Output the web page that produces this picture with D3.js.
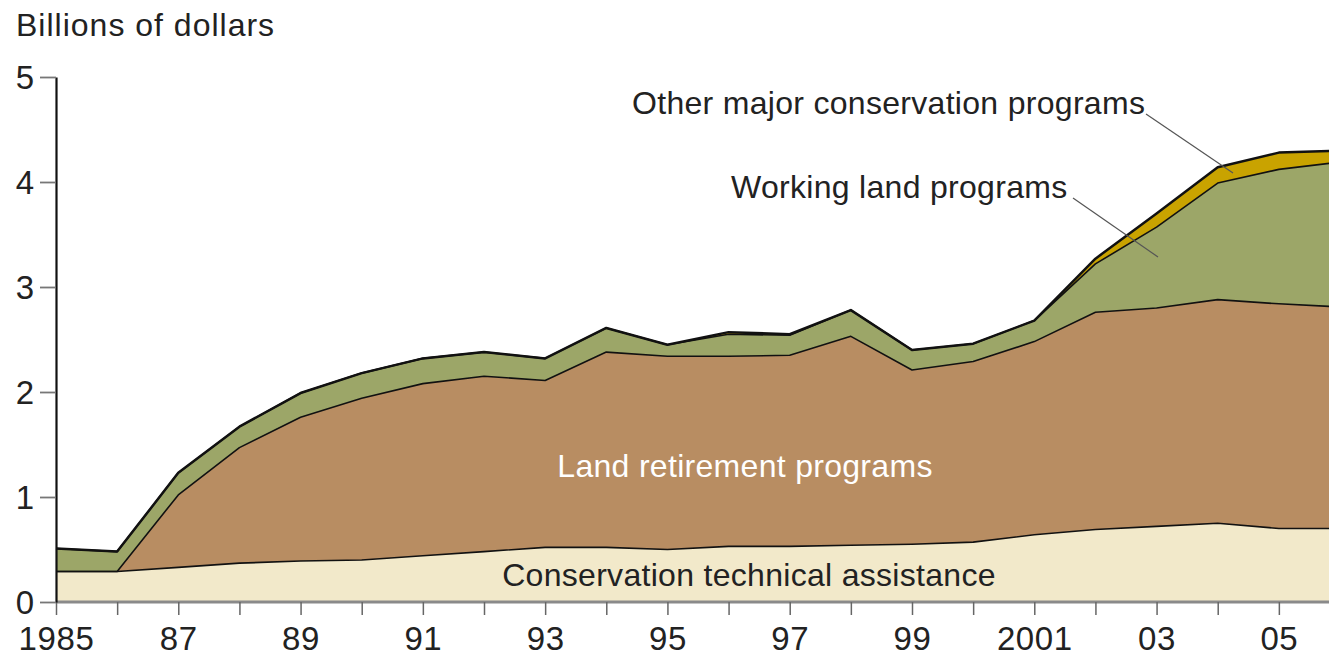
<!DOCTYPE html>
<html>
<head>
<meta charset="utf-8">
<script src="https://cdn.jsdelivr.net/npm/d3@7"></script>
<style>
  body { margin: 0; background: #fff; }
  svg text { font-family: "Liberation Sans", Arial, sans-serif; }
</style>
</head>
<body>
<div id="chart"></div>
<script>
// data, billions of dollars
var years = [1985, 1986, 1987, 1988, 1989, 1990, 1991, 1992, 1993, 1994, 1995,
             1996, 1997, 1998, 1999, 2000, 2001, 2002, 2003, 2004, 2005, 2006];
var technicalAssistance = [0.29, 0.29, 0.33, 0.37, 0.39, 0.40, 0.44, 0.48, 0.52, 0.52, 0.50,
                           0.53, 0.53, 0.54, 0.55, 0.57, 0.64, 0.69, 0.72, 0.75, 0.70, 0.70];
var landRetirement = [0, 0, 0.69, 1.10, 1.37, 1.54, 1.64, 1.67, 1.59, 1.86, 1.84,
                      1.81, 1.82, 1.99, 1.66, 1.72, 1.84, 2.07, 2.08, 2.13, 2.14, 2.11];
var workingLand = [0.22, 0.19, 0.21, 0.20, 0.23, 0.24, 0.24, 0.23, 0.21, 0.23, 0.11,
                   0.21, 0.19, 0.25, 0.19, 0.17, 0.20, 0.46, 0.77, 1.11, 1.28, 1.38];
var otherPrograms = [0, 0, 0, 0, 0, 0, 0, 0, 0, 0, 0,
                     0.02, 0.01, 0, 0, 0, 0, 0.05, 0.13, 0.15, 0.16, 0.11];
var yTicks = [0, 1, 2, 3, 4, 5];
var xTickLabels = {1985: "1985", 1987: "87", 1989: "89", 1991: "91", 1993: "93", 1995: "95",
                   1997: "97", 1999: "99", 2001: "2001", 2003: "03", 2005: "05"};

var keys = ["cta", "retire", "working", "other"];
var colors = { cta: "#f2e9ca", retire: "#b88d62", working: "#9ca668", other: "#c9a300" };

var table = years.map(function (y, i) {
  return { year: y, cta: technicalAssistance[i], retire: landRetirement[i],
           working: workingLand[i], other: otherPrograms[i] };
});

var width = 1329, height = 658;
var svg = d3.select("#chart").append("svg")
    .attr("width", width)
    .attr("height", height);

var x = d3.scaleLinear().domain([1985, 2006]).range([56, 1340]);
var y = d3.scaleLinear().domain([0, 5]).range([602, 77]);

var series = d3.stack().keys(keys)(table);

var area = d3.area()
    .x(function (d) { return x(d.data.year); })
    .y0(function (d) { return y(d[0]); })
    .y1(function (d) { return y(d[1]); });

var topLine = d3.line()
    .x(function (d) { return x(d.data.year); })
    .y(function (d) { return y(d[1]); });

svg.selectAll(".layer")
  .data(series)
  .enter().append("path")
    .attr("class", "layer")
    .attr("d", area)
    .style("fill", function (d) { return colors[d.key]; });

svg.selectAll(".edge")
  .data(series)
  .enter().append("path")
    .attr("class", "edge")
    .attr("d", topLine)
    .style("fill", "none")
    .style("stroke", "#111")
    .style("stroke-width", function (d) { return d.key === "other" ? 2.5 : 1.6; })
    .style("stroke-linejoin", "round");

// x axis: gray baseline with ticks below
var xAxis = svg.append("g")
    .attr("transform", "translate(0," + y(0) + ")")
    .call(d3.axisBottom(x)
      .tickValues(years.filter(function (d) { return d <= 2005; }))
      .tickSize(13)
      .tickSizeOuter(0)
      .tickFormat(function (d) { return xTickLabels[d] || ""; }));
xAxis.select(".domain").attr("d", "M56,0H" + width).style("stroke", "#8a8a8a").style("stroke-width", 3);
xAxis.selectAll(".tick line").style("stroke", "#666").style("stroke-width", 1.5);
xAxis.selectAll(".tick text")
    .attr("y", 48)
    .attr("dy", 0)
    .style("font-size", "33px")
    .style("letter-spacing", "0.6px")
    .style("fill", "#222");

// y axis
var yAxis = svg.append("g")
    .attr("transform", "translate(56,0)")
    .call(d3.axisLeft(y).tickValues(yTicks).tickSize(16).tickSizeOuter(0).tickFormat(d3.format("d")));
yAxis.select(".domain").style("stroke", "#111").style("stroke-width", 2.2);
yAxis.selectAll(".tick line").style("stroke", "#777").style("stroke-width", 1.8);
yAxis.selectAll(".tick text")
    .attr("x", -22)
    .attr("dy", "0.36em")
    .style("font-size", "33px")
    .style("fill", "#222");

svg.append("text")
    .attr("x", 16)
    .attr("y", 36)
    .style("font-size", "32px")
    .style("letter-spacing", "1px")
    .style("fill", "#222")
    .text("Billions of dollars");

// labels and leader lines
var labels = [
  { text: "Other major conservation programs", x: 632, y: 114, anchor: "start", fill: "#222" },
  { text: "Working land programs", x: 731, y: 198, anchor: "start", fill: "#222" },
  { text: "Land retirement programs", x: 745, y: 477, anchor: "middle", fill: "#fff" },
  { text: "Conservation technical assistance", x: 749, y: 586, anchor: "middle", fill: "#222" }
];
svg.selectAll(".label")
  .data(labels)
  .enter().append("text")
    .attr("class", "label")
    .attr("x", function (d) { return d.x; })
    .attr("y", function (d) { return d.y; })
    .attr("text-anchor", function (d) { return d.anchor; })
    .style("font-size", "32px")
    .style("letter-spacing", "0.3px")
    .style("fill", function (d) { return d.fill; })
    .text(function (d) { return d.text; });

var leaders = [[1146, 114, 1233, 173], [1073, 198, 1158, 257]];
svg.selectAll(".leader")
  .data(leaders)
  .enter().append("line")
    .attr("x1", function (d) { return d[0]; })
    .attr("y1", function (d) { return d[1]; })
    .attr("x2", function (d) { return d[2]; })
    .attr("y2", function (d) { return d[3]; })
    .style("stroke", "#555")
    .style("stroke-width", 1.2);
</script>
</body>
</html>
